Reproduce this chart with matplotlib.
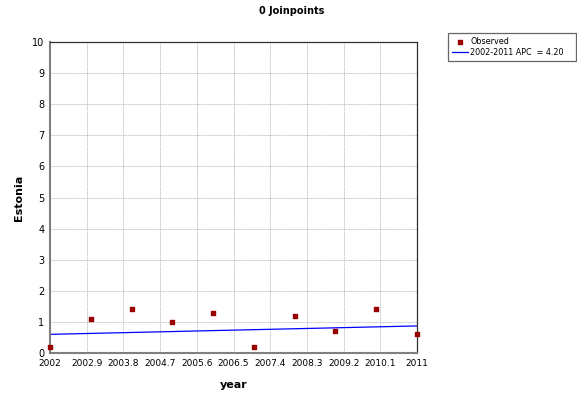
import matplotlib
matplotlib.use("Agg")
import matplotlib.pyplot as plt

years = [2002, 2003, 2004, 2005, 2006, 2007, 2008, 2009, 2010, 2011]
observed = [0.2, 1.1, 1.4, 1.0, 1.3, 0.2, 1.2, 0.7, 1.4, 0.6]
fit_years = [2002, 2011]
fit_values = [0.6, 0.87]
xticks = [2002, 2002.9, 2003.8, 2004.7, 2005.6, 2006.5, 2007.4, 2008.3, 2009.2, 2010.1, 2011]
xticklabels = ["2002", "2002.9", "2003.8", "2004.7", "2005.6", "2006.5", "2007.4",
               "2008.3", "2009.2", "2010.1", "2011"]
yticks = list(range(0, 11))

FONT = "DejaVu Sans"

fig = plt.figure(figsize=(5.77, 3.94), dpi=100)
ax = fig.add_axes([50 / 577, 1 - 353 / 394, 367 / 577, 311 / 394])

ax.plot(fit_years, fit_values, color="#0000FF", linewidth=0.9, label="2002-2011 APC  = 4.20", zorder=2)
ax.scatter(years, observed, marker="s", s=12, color="#990000", label="Observed", zorder=3, clip_on=False)

ax.set_xlim(2002, 2011)
ax.set_ylim(0, 10)
ax.set_xticks(xticks)
ax.set_xticklabels(xticklabels, fontsize=6.5, fontfamily=FONT)
ax.set_yticks(yticks)
ax.set_yticklabels([str(v) for v in yticks], fontsize=7, fontfamily=FONT)
ax.tick_params(length=0, pad=4)
ax.grid(True, color="#BEBEBE", linestyle=(0, (2, 1)), linewidth=0.6)
for side in ("left", "bottom"):
    ax.spines[side].set_color("#808080")
    ax.spines[side].set_linewidth(1.5)
for side in ("top", "right"):
    ax.spines[side].set_color("#303030")
    ax.spines[side].set_linewidth(0.9)

ax.set_xlabel("year", fontsize=8, fontweight="bold", fontfamily=FONT, labelpad=9)
ax.set_ylabel("Estonia", fontsize=8, fontweight="bold", fontfamily=FONT, labelpad=6)
fig.suptitle("0 Joinpoints", x=0.505, y=0.985, fontsize=7, fontweight="bold", fontfamily=FONT)

handles, labels = ax.get_legend_handles_labels()
leg = fig.legend(handles[::-1], labels[::-1], loc="upper left",
                 bbox_to_anchor=(448 / 577, 1 - 63 / 394, 128 / 577, 30 / 394), mode="expand",
                 prop={"family": FONT, "size": 5.8}, frameon=True, fancybox=False, borderpad=0.55,
                 labelspacing=0.15, handlelength=1.9, handletextpad=0.3, borderaxespad=0,
                 markerscale=0.7)
leg.get_frame().set_edgecolor("#404040")
leg.get_frame().set_linewidth(0.9)

fig.savefig("out.png", dpi=100)
